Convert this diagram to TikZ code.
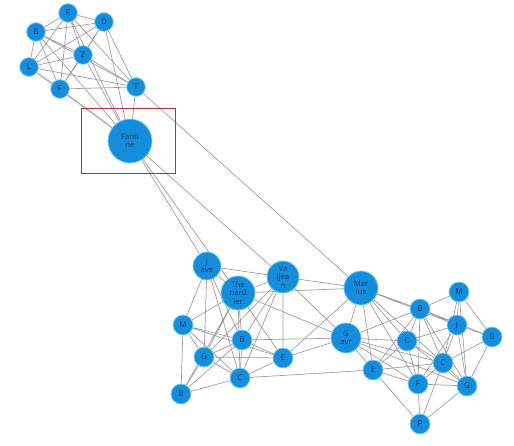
\documentclass[tikz,border=0pt]{standalone}
\usepackage{fontspec}
\setmainfont{Open Sans}
\usetikzlibrary{backgrounds}
\definecolor{nodeblue}{RGB}{22,141,218}
\definecolor{halo}{RGB}{120,205,245}
\definecolor{labelblue}{RGB}{28,55,110}
\definecolor{edgegray}{RGB}{158,152,160}
\definecolor{boxred}{RGB}{190,45,55}
\begin{document}
\begin{tikzpicture}[x=0.75pt, y=-0.75pt,
  vtx/.style={circle, fill=nodeblue, draw=halo, line width=0.6pt, inner sep=0pt, minimum size=15pt, text=labelblue, font=\fontsize{6}{6}\selectfont},
  hub/.style={vtx, align=center, font=\fontsize{5.8}{6.2}\selectfont},
  edge/.style={draw=edgegray, line width=0.5pt}]
\useasboundingbox (0,0) rectangle (514,446);
% Fantine's group
\node[vtx, minimum size=14pt] (fa) at (68,13) {F};
\node[vtx, minimum size=14pt] (da) at (104,22) {D};
\node[vtx, minimum size=14pt] (bl) at (36,32) {B};
\node[vtx, minimum size=14pt] (ze) at (83,55) {Z};
\node[vtx, minimum size=14pt] (li) at (29,67) {L};
\node[vtx, minimum size=14pt] (fv) at (60,89) {F};
\node[vtx, minimum size=14pt] (th) at (136,87) {T};
\node[hub, minimum size=33pt] (fan) at (130,141) {Fanti\\ne};
\node[draw=boxred, line width=0.7pt, minimum width=70.5pt, minimum height=48.75pt] (hl) at (128,140.5) {};
% main group, left part
\node[hub, minimum size=21pt] (jav) at (207,266) {J\\ave};
\node[hub, minimum size=25.5pt] (then) at (238,293) {The\\nard\\ier};
\node[hub, minimum size=24pt] (valj) at (283,277) {Va\\ljea\\n};
\node[vtx] (ma) at (183,325) {M};
\node[vtx] (bb) at (242,340) {B};
\node[vtx] (gg) at (204,357) {G};
\node[vtx] (ee) at (283,358) {E};
\node[vtx] (cc) at (240,378) {C};
\node[vtx] (bl2) at (181,394) {B};
% main group, right part
\node[hub, minimum size=25.5pt] (mar) at (361,288) {Mar\\ius};
\node[hub, minimum size=22.5pt] (gav) at (346,338) {G\\avr};
\node[vtx] (er) at (373,370) {E};
\node[vtx] (br) at (420,309) {B};
\node[vtx] (mr) at (459,292) {M};
\node[vtx] (jr) at (457,325) {J};
\node[vtx] (bfr) at (492,337) {B};
\node[vtx] (cr) at (407,341) {C};
\node[vtx] (cr2) at (443,363) {C};
\node[vtx] (fr) at (418,384) {F};
\node[vtx] (gr) at (467,386) {G};
\node[vtx] (pp) at (420,424) {P};
\begin{scope}[on background layer]
% clique round Fantine
\draw[edge] (fa) -- (da) (fa) -- (bl) (fa) -- (ze) (fa) -- (li) (fa) -- (fv) (fa) -- (th) (fa) -- (fan);
\draw[edge] (da) -- (bl) (da) -- (ze) (da) -- (li) (da) -- (fv) (da) -- (th) (da) -- (fan);
\draw[edge] (bl) -- (ze) (bl) -- (li) (bl) -- (fv) (bl) -- (th) (bl) -- (fan);
\draw[edge] (ze) -- (li) (ze) -- (fv) (ze) -- (th) (ze) -- (fan);
\draw[edge] (li) -- (fv) (li) -- (th) (li) -- (fan);
\draw[edge] (fv) -- (th) (fv) -- (fan) (th) -- (fan);
% long links
\draw[edge] (fan) -- (jav) (fan) -- (then) (fan) -- (valj) (th) -- (mar);
% left part
\draw[edge] (jav) -- (then) (jav) -- (valj) (jav) -- (ma) (jav) -- (gg) (jav) -- (bb) (jav) -- (cc);
\draw[edge] (then) -- (valj) (then) -- (ma) (then) -- (gg) (then) -- (bb) (then) -- (cc) (then) -- (bl2) (then) -- (ee) (then) -- (gav) (then) -- (mar);
\draw[edge] (valj) -- (mar) (valj) -- (gav) (valj) -- (bb) (valj) -- (cc) (valj) -- (ee) (valj) -- (gg);
\draw[edge] (ma) -- (bl2) (ma) -- (gg) (ma) -- (bb) (ma) -- (cc) (ma) -- (ee);
\draw[edge] (gg) -- (bl2) (gg) -- (cc) (gg) -- (bb) (gg) -- (ee);
\draw[edge] (bl2) -- (cc) (bl2) -- (bb) (cc) -- (bb) (cc) -- (ee) (cc) -- (er) (bb) -- (ee) (bb) -- (gav) (ee) -- (gav) (ee) -- (mar);
% right part
\draw[edge] (mar) -- (gav) (mar) -- (br) (mar) -- (cr) (mar) -- (jr) (mar) -- (fr) (mar) -- (cr2) (mar) -- (er);
\draw[edge] (gav) -- (er) (gav) -- (cr) (gav) -- (cr2) (gav) -- (fr) (gav) -- (br) (gav) -- (gr);
\draw[edge] (br) -- (mr) (br) -- (jr) (br) -- (bfr) (br) -- (cr) (br) -- (cr2) (br) -- (fr) (br) -- (gr) (br) -- (er);
\draw[edge] (mr) -- (jr) (mr) -- (bfr) (mr) -- (gr) (mr) -- (cr2);
\draw[edge] (jr) -- (bfr) (jr) -- (cr) (jr) -- (cr2) (jr) -- (fr) (jr) -- (gr);
\draw[edge] (bfr) -- (gr) (bfr) -- (cr2);
\draw[edge] (cr) -- (fr) (cr) -- (cr2) (cr) -- (gr) (cr) -- (er);
\draw[edge] (cr2) -- (fr) (cr2) -- (gr) (cr2) -- (pp) (cr2) -- (er);
\draw[edge] (fr) -- (pp) (fr) -- (gr) (fr) -- (er) (gr) -- (pp) (er) -- (pp);
\end{scope}
\end{tikzpicture}
\end{document}
